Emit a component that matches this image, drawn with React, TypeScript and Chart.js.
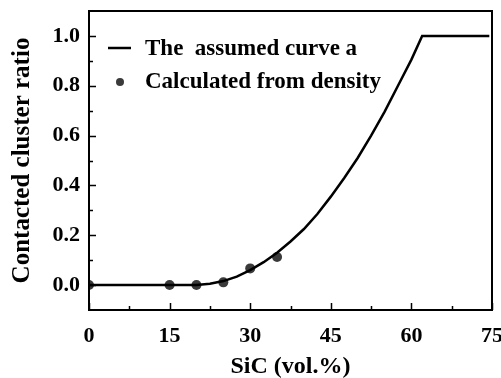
import React, { useEffect, useRef } from "react";
import { Chart, registerables } from "chart.js";
Chart.register(...registerables);

const curveX = [0, 20, 22.5, 25, 27.5, 30, 32.5, 35, 37.5, 40, 42.5, 45, 47.5, 50, 52.5, 55, 57.5, 60, 62, 74.5];
const curveY = [0, 0, 0.005, 0.016, 0.034, 0.06, 0.092, 0.13, 0.175, 0.225, 0.285, 0.355, 0.43, 0.51, 0.6, 0.695, 0.8, 0.905, 1.0, 1.0];
const measuredX = [0, 15, 20, 25, 30, 35];
const measuredY = [0, 0, 0, 0.011, 0.067, 0.113];
const xTicks = [0, 15, 30, 45, 60, 75];
const xMinorTicks = [7.5, 22.5, 37.5, 52.5, 67.5];
const yTicks = [0, 0.2, 0.4, 0.6, 0.8, 1.0];
const yMinorTicks = [0.1, 0.3, 0.5, 0.7, 0.9];
const seriesLabels = ["The  assumed curve a", "Calculated from density"];
const xTitle = "SiC (vol.%)";
const yTitle = "Contacted cluster ratio";

const FAMILY = "'Liberation Serif', 'Times New Roman', serif";
const DOT = "#3a3a3a";

const decor = {
  id: "decor",
  afterDatasetsDraw(chart: any) {
    const { ctx, chartArea: a, scales } = chart;
    const x = scales.x;
    const y = scales.y;
    ctx.save();
    ctx.strokeStyle = "#000";
    ctx.lineWidth = 2;
    ctx.strokeRect(a.left, a.top, a.right - a.left, a.bottom - a.top);
    ctx.lineWidth = 1.5;
    ctx.beginPath();
    const xt = (v: number, len: number) => {
      const px = Math.round(x.getPixelForValue(v)) + 0.5;
      ctx.moveTo(px, a.bottom);
      ctx.lineTo(px, a.bottom - len);
    };
    const yt = (v: number, len: number) => {
      const py = Math.round(y.getPixelForValue(v)) + 0.5;
      ctx.moveTo(a.left, py);
      ctx.lineTo(a.left + len, py);
    };
    xTicks.forEach((v) => xt(v, 7));
    xMinorTicks.forEach((v) => xt(v, 4));
    yTicks.forEach((v) => yt(v, 7));
    yMinorTicks.forEach((v) => yt(v, 4));
    ctx.stroke();

    // legend
    const ds = chart.data.datasets;
    const lx = a.left + 19;
    const ly1 = a.top + 37;
    const ly2 = a.top + 70;
    ctx.strokeStyle = "#000";
    ctx.lineWidth = 2.5;
    ctx.beginPath();
    ctx.moveTo(lx, ly1);
    ctx.lineTo(lx + 23, ly1);
    ctx.stroke();
    ctx.fillStyle = DOT;
    ctx.beginPath();
    ctx.arc(lx + 12, ly2 + 1, 4, 0, Math.PI * 2);
    ctx.fill();
    ctx.fillStyle = "#000";
    ctx.font = `bold 23px ${FAMILY}`;
    ctx.textBaseline = "middle";
    ctx.textAlign = "left";
    ctx.fillText(ds[0].label, lx + 37, ly1 + 1);
    ctx.fillText(ds[1].label, lx + 37, ly2 + 1);
    ctx.restore();
  },
};

export default function App() {
  const ref = useRef<HTMLCanvasElement | null>(null);
  useEffect(() => {
    if (!ref.current) return;
    const chart = new Chart(ref.current, {
      type: "line",
      data: {
        datasets: [
          {
            label: seriesLabels[0],
            data: curveX.map((v, i) => ({ x: v, y: curveY[i] })),
            borderColor: "#000",
            backgroundColor: "#000",
            borderWidth: 2.5,
            pointRadius: 0,
            tension: 0,
            fill: false,
          },
          {
            label: seriesLabels[1],
            data: measuredX.map((v, i) => ({ x: v, y: measuredY[i] })),
            showLine: false,
            pointRadius: 5,
            pointBorderWidth: 0,
            backgroundColor: DOT,
            borderColor: DOT,
          },
        ],
      },
      options: {
        responsive: false,
        animation: false,
        layout: { padding: { left: 0, right: 9, top: 11, bottom: 0 } },
        plugins: { legend: { display: false }, tooltip: { enabled: false } },
        scales: {
          x: {
            type: "linear",
            min: 0,
            max: 75,
            afterBuildTicks: (s: any) => {
              s.ticks = xTicks.map((v) => ({ value: v }));
            },
            afterFit: (s: any) => {
              s.height = 68;
              s.paddingLeft = 0;
              s.paddingRight = 0;
            },
            ticks: {
              color: "#000",
              padding: 13,
              maxRotation: 0,
              autoSkip: false,
              font: { family: FAMILY, size: 22, weight: "bold" },
              callback: (v: any) => String(v),
            },
            grid: { display: false, drawTicks: false },
            border: { display: false },
            title: {
              display: true,
              text: xTitle,
              color: "#000",
              font: { family: FAMILY, size: 24, weight: "bold", lineHeight: 1 },
              padding: { top: 0, bottom: -1 },
            },
          },
          y: {
            type: "linear",
            min: -0.1,
            max: 1.1,
            afterBuildTicks: (s: any) => {
              s.ticks = yTicks.map((v) => ({ value: v }));
            },
            afterFit: (s: any) => {
              s.width = 89;
              s.paddingTop = 0;
              s.paddingBottom = 0;
            },
            ticks: {
              color: "#000",
              padding: 9,
              autoSkip: false,
              font: { family: FAMILY, size: 22, weight: "bold" },
              callback: (v: any) => Number(v).toFixed(1),
            },
            grid: { display: false, drawTicks: false },
            border: { display: false },
            title: {
              display: true,
              text: yTitle,
              color: "#000",
              font: { family: FAMILY, size: 25, weight: "bold", lineHeight: 1 },
              padding: { top: 10, bottom: 0 },
            },
          },
        },
      },
      plugins: [decor],
    } as any);
    return () => chart.destroy();
  }, []);
  return (
    <div style={{ position: "absolute", left: 0, top: 0, width: 501, height: 378, background: "#fff" }}>
      <canvas ref={ref} width={501} height={378} />
    </div>
  );
}
